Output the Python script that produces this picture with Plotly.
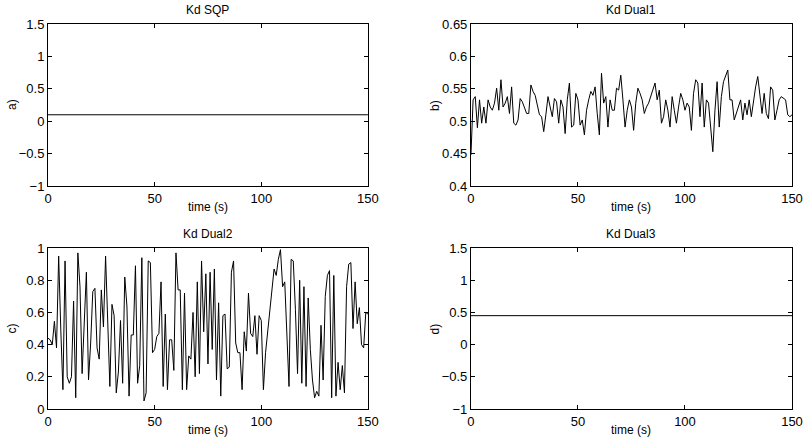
import plotly.graph_objects as go
from plotly.subplots import make_subplots

time_a = [0, 150]
kd_sqp = [0.1, 0.1]

time_d = [0, 150]
kd_dual3 = [0.45, 0.45]

kd_dual1 = [
    0.448, 0.533, 0.538, 0.490, 0.533, 0.497, 0.522, 0.497, 0.533, 0.522,
    0.517, 0.528, 0.551, 0.517, 0.564, 0.522, 0.528, 0.538, 0.512, 0.553,
    0.497, 0.494, 0.502, 0.535, 0.530, 0.522, 0.512, 0.512, 0.556, 0.546,
    0.540, 0.525, 0.510, 0.507, 0.484, 0.510, 0.538, 0.522, 0.507, 0.535,
    0.530, 0.497, 0.533, 0.522, 0.481, 0.533, 0.559, 0.491, 0.494, 0.543,
    0.533, 0.494, 0.502, 0.479, 0.517, 0.533, 0.546, 0.540, 0.553, 0.512,
    0.479, 0.574, 0.528, 0.538, 0.491, 0.533, 0.517, 0.517, 0.551, 0.548,
    0.571, 0.533, 0.491, 0.517, 0.533, 0.522, 0.486, 0.528, 0.551, 0.543,
    0.533, 0.512, 0.522, 0.528, 0.538, 0.548, 0.559, 0.533, 0.548, 0.497,
    0.507, 0.533, 0.517, 0.491, 0.538, 0.517, 0.497, 0.522, 0.543, 0.533,
    0.517, 0.528, 0.522, 0.486, 0.543, 0.564, 0.559, 0.507, 0.559, 0.491,
    0.533, 0.528, 0.491, 0.453, 0.517, 0.561, 0.491, 0.538, 0.561, 0.570,
    0.579, 0.533, 0.533, 0.502, 0.512, 0.522, 0.533, 0.502, 0.528, 0.510,
    0.533, 0.507, 0.533, 0.553, 0.569, 0.543, 0.512, 0.543, 0.512, 0.504,
    0.553, 0.548, 0.502, 0.517, 0.533, 0.538, 0.535, 0.533, 0.510, 0.507,
    0.510,
]

kd_dual2 = [
    0.44, 0.43, 0.40, 0.545, 0.38, 0.95, 0.49, 0.12, 0.92, 0.20,
    0.16, 0.20, 0.67, 0.07, 0.97, 0.76, 0.22, 0.55, 0.85, 0.18,
    0.41, 0.73, 0.75, 0.38, 0.31, 0.74, 0.51, 0.95, 0.51, 0.14,
    0.65, 0.58, 0.10, 0.23, 0.55, 0.16, 0.82, 0.64, 0.08, 0.46,
    0.46, 0.89, 0.16, 0.27, 0.94, 0.05, 0.10, 0.92, 0.91, 0.35,
    0.37, 0.45, 0.47, 0.79, 0.14, 0.59, 0.12, 0.43, 0.43, 0.24,
    0.97, 0.74, 0.74, 0.12, 0.72, 0.12, 0.33, 0.31, 0.60, 0.20,
    0.79, 0.22, 0.92, 0.48, 0.84, 0.28, 0.85, 0.37, 0.87, 0.18,
    0.66, 0.08, 0.58, 0.59, 0.25, 0.26, 0.85, 0.92, 0.41, 0.35,
    0.35, 0.12, 0.48, 0.36, 0.72, 0.47, 0.45, 0.58, 0.34, 0.58,
    0.55, 0.12, 0.35, 0.49, 0.60, 0.74, 0.87, 0.83, 0.93, 0.99,
    0.76, 0.79, 0.43, 0.14, 0.93, 0.92, 0.62, 0.22, 0.80, 0.16,
    0.76, 0.14, 0.69, 0.37, 0.18, 0.07, 0.11, 0.08, 0.52, 0.18,
    0.70, 0.83, 0.86, 0.07, 0.83, 0.08, 0.29, 0.12, 0.27, 0.10,
    0.76, 0.90, 0.91, 0.50, 0.79, 0.53, 0.63, 0.40, 0.38, 0.60,
    0.59,
]
time_bc = list(range(151))

titles = ["Kd SQP", "Kd Dual1", "Kd Dual2", "Kd Dual3"]
ylabels = ["a)", "b)", "c)", "d)"]
xlabel = "time (s)"
xticks = [0, 50, 100, 150]
yranges = [[-1, 1.5], [0.4, 0.65], [0, 1], [-1, 1.5]]
yticks = [
    [-1, -0.5, 0, 0.5, 1, 1.5],
    [0.4, 0.45, 0.5, 0.55, 0.6, 0.65],
    [0, 0.2, 0.4, 0.6, 0.8, 1],
    [-1, -0.5, 0, 0.5, 1, 1.5],
]

FONT = "Liberation Sans, Arial, Helvetica, sans-serif"

fig = make_subplots(rows=2, cols=2)

# panel pixel boxes -> paper domains (margins l=48, r=12, t=24, b=37 ; plot 744 x 385)
xdoms = [[0.0, 0.430], [0.5685, 1.0]]
ydoms = [[0.579, 1.0], [0.0, 0.418]]

series = [(time_a, kd_sqp), (time_bc, kd_dual1), (time_bc, kd_dual2), (time_d, kd_dual3)]
for i, (x, y) in enumerate(series):
    r, c = i // 2 + 1, i % 2 + 1
    fig.add_trace(go.Scatter(x=x, y=y, mode="lines",
                             line=dict(color="black", width=1), showlegend=False),
                  row=r, col=c)
    fig.update_xaxes(domain=xdoms[c - 1], automargin=False,
                     range=[0, 150], tickvals=xticks, ticks="inside", ticklen=4,
                     showline=True, linecolor="black", linewidth=1, mirror="ticks",
                     showgrid=False, zeroline=False, tickcolor="black",
                     tickfont=dict(size=13, family=FONT, color="black"),
                     row=r, col=c)
    fig.update_yaxes(domain=ydoms[r - 1], automargin=False,
                     range=yranges[i], tickvals=yticks[i], ticks="inside", ticklen=4,
                     showline=True, linecolor="black", linewidth=1, mirror="ticks",
                     showgrid=False, zeroline=False, tickcolor="black",
                     tickfont=dict(size=13, family=FONT, color="black"),
                     row=r, col=c)

fig.update_layout(
    width=804, height=446,
    margin=dict(l=48, r=12, t=24, b=37),
    paper_bgcolor="white", plot_bgcolor="white",
    font=dict(family=FONT, color="black"),
)

for i, t in enumerate(titles):
    r, c = i // 2, i % 2
    xc = (xdoms[c][0] + xdoms[c][1]) / 2
    yc = (ydoms[r][0] + ydoms[r][1]) / 2
    fig.add_annotation(text=t, x=xc, y=ydoms[r][1], xref="paper", yref="paper",
                       xanchor="center", yanchor="middle", yshift=14, showarrow=False,
                       font=dict(size=12, family=FONT, color="black"))
    fig.add_annotation(text=xlabel, x=xc, y=ydoms[r][0], xref="paper", yref="paper",
                       xanchor="center", yanchor="middle", yshift=-21, showarrow=False,
                       font=dict(size=12, family=FONT, color="black"))
    fig.add_annotation(text=ylabels[i], x=xdoms[c][0], y=yc, xref="paper", yref="paper",
                       xanchor="center", yanchor="middle", xshift=-36, textangle=-90,
                       showarrow=False, font=dict(size=12, family=FONT, color="black"))

fig.write_html("out.html")
